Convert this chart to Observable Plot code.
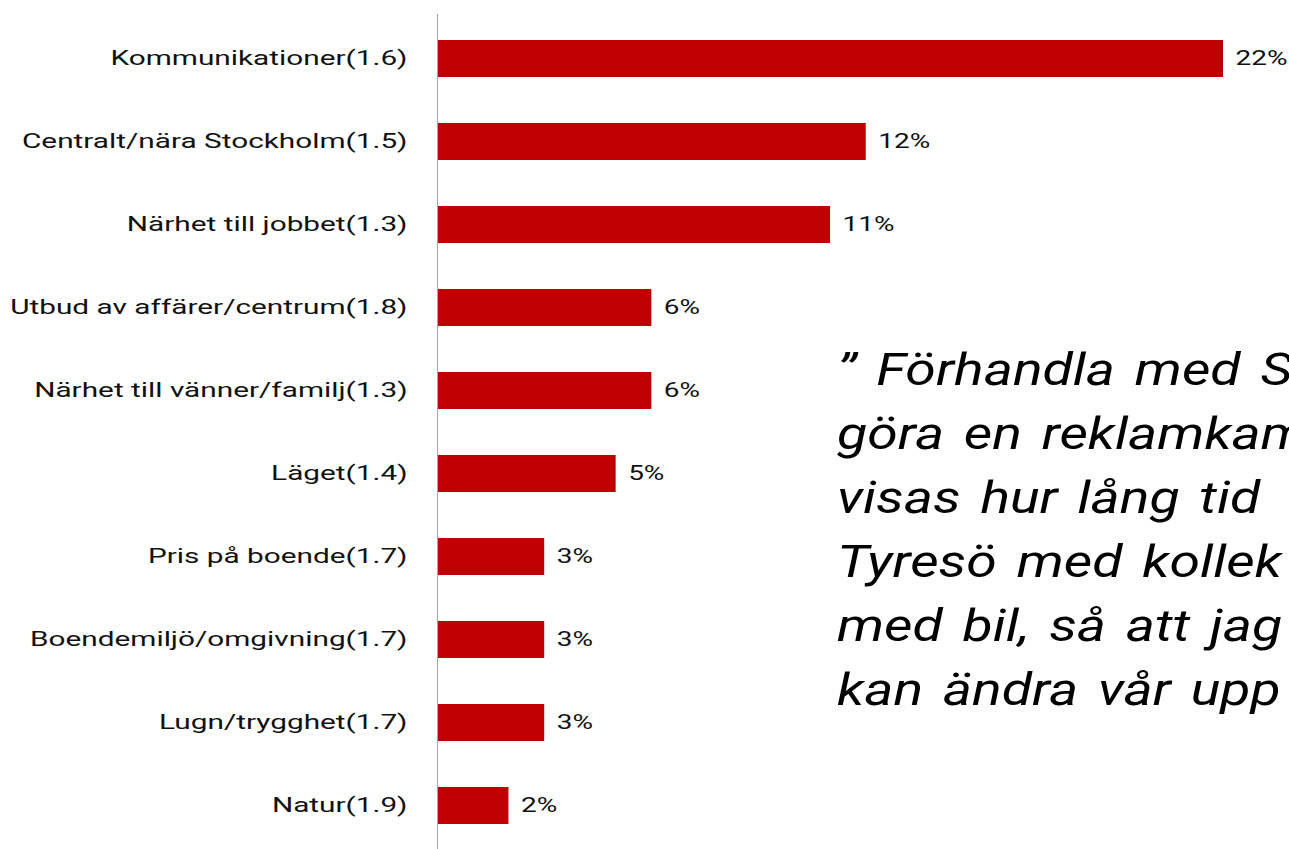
<!DOCTYPE html>
<html>
<head>
<meta charset="utf-8">
<script src="https://cdn.jsdelivr.net/npm/d3@7"></script>
<script src="https://cdn.jsdelivr.net/npm/@observablehq/plot@0.6"></script>
<style>
  html, body { margin: 0; padding: 0; background: #fff; overflow: hidden; }
  #wrap { position: relative; width: 1289px; height: 849px; overflow: hidden; }
  #quote {
    position: absolute; left: 837px; top: 338px;
    font-family: Roboto, sans-serif; font-style: italic; font-weight: 400; font-size: 45px;
    line-height: 64px; white-space: nowrap; word-spacing: 5px; color: #000;
    transform: scaleX(1.23); transform-origin: 0 0;
  }
</style>
</head>
<body>
<div id="wrap">
  <div id="chart"></div>
  <div id="quote"></div>
</div>
<script>
const categories = [
  "Kommunikationer(1.6)",
  "Centralt/nära Stockholm(1.5)",
  "Närhet till jobbet(1.3)",
  "Utbud av affärer/centrum(1.8)",
  "Närhet till vänner/familj(1.3)",
  "Läget(1.4)",
  "Pris på boende(1.7)",
  "Boendemiljö/omgivning(1.7)",
  "Lugn/trygghet(1.7)",
  "Natur(1.9)"
];
const values = [22, 12, 11, 6, 6, 5, 3, 3, 3, 2];
const quoteLines = [
  "” Förhandla med S",
  "göra en reklamkam",
  "visas hur lång tid",
  "Tyresö med kollek",
  "med bil, så att jag",
  "kan ändra vår upp"
];

const data = categories.map((c, i) => ({category: c, value: values[i]}));
const STRETCH = 1.49;

const chart = Plot.plot({
  width: 1289,
  height: 849,
  marginLeft: 437,
  marginRight: 66,
  marginTop: 14,
  marginBottom: 0,
  style: {fontFamily: "Roboto, sans-serif", fontSize: "20px", color: "#111", background: "#fff"},
  x: {domain: [0, 22], axis: null},
  y: {domain: categories, paddingInner: 0.56, paddingOuter: 0.28, axis: null},
  marks: [
    Plot.barX(data, {x: "value", y: "category", fill: "#c00000"}),
    Plot.ruleX([0], {stroke: "#a6a6a6", strokeWidth: 1}),
    Plot.axisY({tickSize: 0, tickPadding: 30, fontSize: 20, label: null, fill: "#111"}),
    Plot.text(data, {x: "value", y: "category", text: d => d.value + "%", textAnchor: "start", dx: 12, fill: "#111", fontSize: 20})
  ]
});
document.getElementById("chart").appendChild(chart);

// horizontally stretch the text glyphs around their anchor points, as in the reference
chart.querySelectorAll('g[aria-label="y-axis tick label"] text').forEach(t => {
  const tr = t.getAttribute("transform") || "";
  t.setAttribute("transform", `${tr} scale(${STRETCH},1)`);
});
chart.querySelectorAll('g[aria-label="text"] text').forEach(t => {
  const tr = t.getAttribute("transform") || "";
  t.setAttribute("transform", `${tr} scale(1.4,1)`);
});

const q = document.getElementById("quote");
quoteLines.forEach(l => { const d = document.createElement("div"); d.textContent = l; q.appendChild(d); });
</script>
</body>
</html>
